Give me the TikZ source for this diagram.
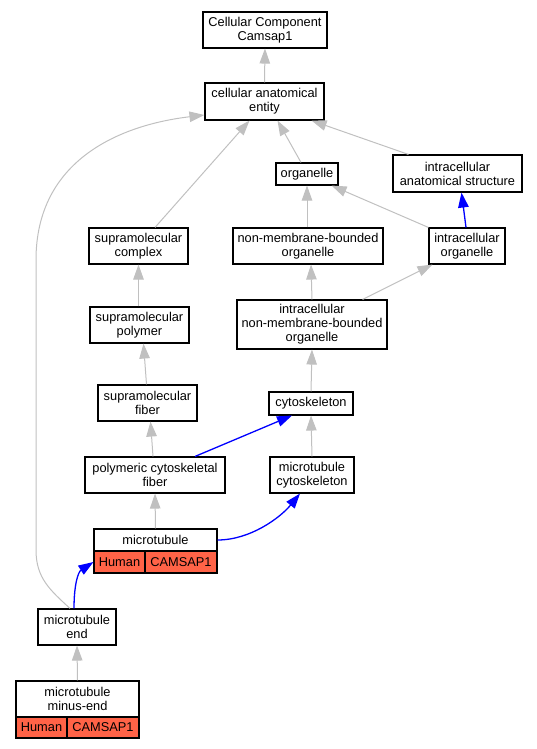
\documentclass[tikz,border=0pt]{standalone}
\usepackage{fontspec}
\setmainfont{Liberation Sans}
\usetikzlibrary{arrows.meta,calc}
\definecolor{edgegray}{HTML}{C0C0C0}
\definecolor{cellred}{HTML}{FF6347}
\tikzset{
  box/.style={draw=black, line width=1.1pt, fill=white, inner sep=0pt, align=center,
    font=\fontsize{12.8}{14}\selectfont},
  cellbox/.style={box, fill=cellred},
  gedge/.style={draw=edgegray, line width=1pt, -{Triangle[length=15pt,width=10.5pt]}, color=edgegray},
  bedge/.style={draw=blue, line width=1.3pt, -{Triangle[length=15pt,width=10.5pt]}, color=blue},
}
\begin{document}
\begin{tikzpicture}[x=1pt,y=-1pt]
\useasboundingbox (0,0) rectangle (537,749);
% nodes
\node[box, minimum width=124pt, minimum height=36pt] (cc) at (265,30) {Cellular Component\\Camsap1};
\node[box, minimum width=119pt, minimum height=37pt] (cae) at (264.5,101.5) {cellular anatomical\\entity};
\node[box, minimum width=62pt, minimum height=22pt] (org) at (307,174) {organelle};
\node[box, minimum width=129pt, minimum height=37pt] (ias) at (457.5,173.5) {intracellular\\anatomical structure};
\node[box, minimum width=99pt, minimum height=36pt] (sc) at (138.5,246) {supramolecular\\complex};
\node[box, minimum width=150pt, minimum height=36pt] (nmbo) at (308,246) {non-membrane-bounded\\organelle};
\node[box, minimum width=76pt, minimum height=36pt] (io) at (467,246) {intracellular\\organelle};
\node[box, minimum width=99pt, minimum height=36pt] (sp) at (139.5,325) {supramolecular\\polymer};
\node[box, minimum width=150pt, minimum height=49pt] (inmbo) at (312,324.5) {intracellular\\non-membrane-bounded\\organelle};
\node[box, minimum width=99pt, minimum height=36pt] (sf) at (147.5,403) {supramolecular\\fiber};
\node[box, minimum width=84pt, minimum height=23pt] (cyto) at (311,403.5) {cytoskeleton};
\node[box, minimum width=140pt, minimum height=36pt] (pcf) at (155,475) {polymeric cytoskeletal\\fiber};
\node[box, minimum width=84pt, minimum height=36pt] (mc) at (312,475) {microtubule\\cytoskeleton};
\node[box, minimum width=123pt, minimum height=22pt] (mt) at (155.5,540) {microtubule};
\node[cellbox, minimum width=51pt, minimum height=22pt] (mth) at (119.5,562) {Human};
\node[cellbox, minimum width=72pt, minimum height=22pt] (mtc) at (181,562) {CAMSAP1};
\node[box, minimum width=78pt, minimum height=36pt] (mend) at (77,627) {microtubule\\end};
\node[box, minimum width=123pt, minimum height=36pt] (me) at (77.5,699) {microtubule\\minus-end};
\node[cellbox, minimum width=51pt, minimum height=21pt] (meh) at (41.5,727.5) {Human};
\node[cellbox, minimum width=72pt, minimum height=21pt] (mec) at (103,727.5) {CAMSAP1};
% edges
\draw[gedge] (cae.north) -- (cc.south);
\draw[gedge] ($(sc.north)+(16.5,0)$) -- ($(cae.south)+(-15,0)$);
\draw[gedge] ($(org.north)+(-6,0)$) -- ($(cae.south)+(13,0)$);
\draw[gedge] ($(ias.north)+(-49,0)$) -- ($(cae.south east)+(-13,0)$);
\draw[gedge] (org.south |- nmbo.north) -- (org.south);
\draw[gedge] (io.north west) -- ($(org.south east)+(-7,0)$);
\draw[bedge] ($(io.north)+(-1,0)$) -- ($(ias.south)+(4,0)$);
\draw[gedge] (sc.south |- sp.north) -- (sc.south);
\draw[gedge] (inmbo.north) -- ($(nmbo.south)+(3,0)$);
\draw[gedge] ($(inmbo.north east)+(-25,0)$) -- ($(io.south west)+(4,0)$);
\draw[gedge] ($(sf.north)+(-1,0)$) -- ($(sp.south)+(4,0)$);
\draw[gedge] (cyto.north) -- (inmbo.south);
\draw[gedge] ($(pcf.north)+(-2,0)$) -- ($(sf.south)+(3,0)$);
\draw[bedge] ($(pcf.north)+(40,0)$) -- ($(cyto.south)+(-19,0)$);
\draw[gedge] (mc.north) -- (cyto.south);
\draw[gedge] (mt.north) -- (pcf.south);
\draw[bedge] (mt.east) .. controls (250,540) and (280,518) .. ($(mc.south)+(-12,0)$);
\draw[bedge] ($(mend.north)+(-3,0)$) .. controls (74,585) and (78,572) .. (mth.west);
\draw[gedge] ($(mend.north)+(-7,0)$) .. controls (50,590) and (36,578) .. (36,550) -- (36,260) .. controls (36,160) and (120,125) .. ($(cae.west)+(0,13.5)$);
\draw[gedge] (me.north) -- (mend.south);
\end{tikzpicture}
\end{document}
